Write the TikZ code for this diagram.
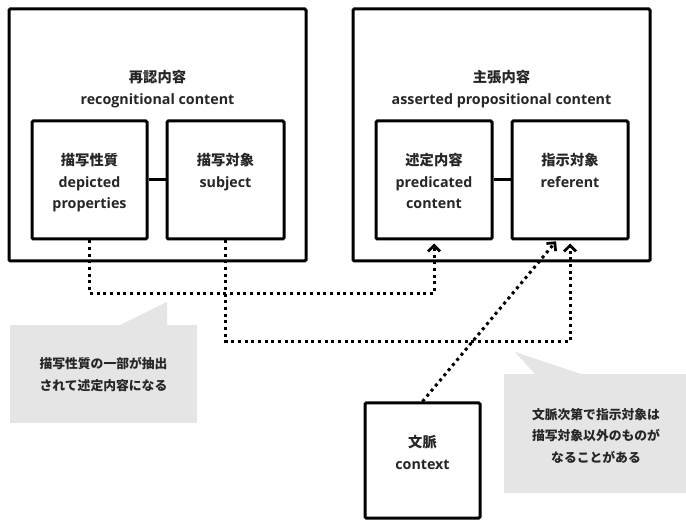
\documentclass[tikz,border=0pt]{standalone}
\usepackage{fontspec}
\setmainfont{Open Sans}
\newfontfamily\cjk{Noto Sans CJK JP}
\usetikzlibrary{arrows.meta,calc,fit}
\begin{document}
\begin{tikzpicture}[x=0.75pt,y=-0.75pt,
  box/.style={draw=black,line width=2.25pt,rounded corners=1pt,inner sep=0pt},
  txt/.style={align=center,inner sep=0pt,anchor=north,text=black!85,
    font=\bfseries\fontsize{10.7}{16.25}\selectfont},
  smalltxt/.style={txt,font=\bfseries\fontsize{9.6}{16.25}\selectfont},
  dotline/.style={line width=2.25pt,dash pattern=on 2.25pt off 2.75pt},
  tipend/.style={-{Straight Barb[length=4.5pt,width=9pt,line width=2pt]},shorten >=2.25pt},
  callout/.style={fill=black!10,inner sep=0pt},
  link/.style={line width=2.25pt}]
\fill[white] (0,0) rectangle (686,520);
\path[use as bounding box] (0,0) rectangle (686,520);

% callouts (background)
\node[callout,fit={(10,325)(197,423)}] (c1) {};
\fill[black!10] (120,325) -- (167,302) -- (167,325) -- cycle;
\node[callout,fit={(504,374)(686,493)}] (c2) {};
\fill[black!10] (535,374) -- (515,352) -- (581,374) -- cycle;

% outer boxes
\node[box,fit={(9,9)(306,261)}] (recog) {};
\node[box,fit={(353,9)(650,261)}] (assert) {};
% inner boxes
\node[box,fit={(32,121)(147,239)}] (dep) {};
\node[box,fit={(167,121)(284,239)}] (subj) {};
\node[box,fit={(376,121)(492,239)}] (pred) {};
\node[box,fit={(512,121)(628,239)}] (ref) {};
\node[box,fit={(365,403)(480,518)}] (ctx) {};

% texts
\node[txt] (recogT) at (recog.north |- {0,70}) {{\cjk 再認内容}\\recognitional content};
\node[txt] (assertT) at (assert.north |- {0,70}) {{\cjk 主張内容}\\asserted propositional content};
\node[txt] (depT) at (dep.north |- {0,153}) {{\cjk 描写性質}\\depicted\\properties};
\node[txt] (subjT) at (subj.north |- {0,153}) {{\cjk 描写対象}\\subject};
\node[txt] (predT) at (pred.north |- {0,153}) {{\cjk 述定内容}\\predicated\\content};
\node[txt] (refT) at (ref.north |- {0,153}) {{\cjk 指示対象}\\referent};
\node[txt] (ctxT) at (ctx.north |- {0,435}) {{\cjk 文脈}\\context};
\node[smalltxt] (c1T) at (c1.north |- {0,357}) {{\cjk 描写性質の一部が抽出}\\{\cjk されて述定内容になる}};
\node[smalltxt] (c2T) at ($(c2.north)+(1,34)$) {{\cjk 文脈次第で指示対象は}\\{\cjk 描写対象以外のものが}\\{\cjk なることがある}};

% solid links
\draw[link] (dep.east) -- (subj.west);
\draw[link] (pred.east) -- (ref.west);

% dotted connectors
\coordinate (j1) at ($(pred.south)+(0,53)$);
\coordinate (j2) at ($(ref.south)+(0,101)$);
\coordinate (rt) at (558,239);
\draw[dotline,tipend] (dep.south) |- (j1) -- (pred.south);
\draw[dotline,tipend] (subj.south) |- (j2) -- (ref.south);
\draw[dotline,tipend] (ctx.north) -- (rt);
\end{tikzpicture}
\end{document}
